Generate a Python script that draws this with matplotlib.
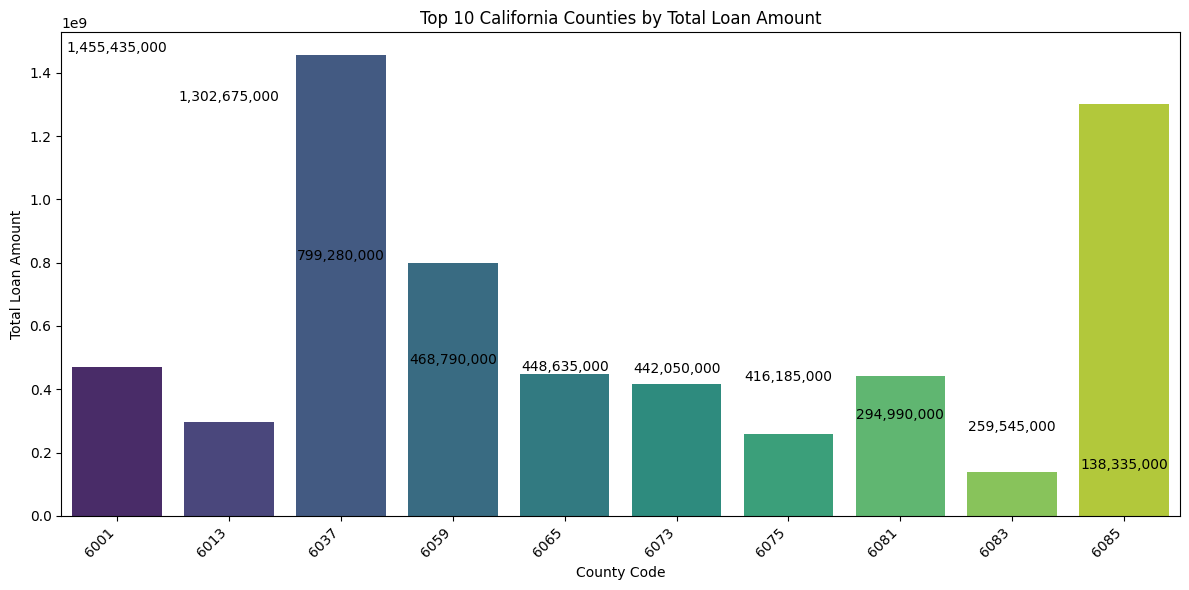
import matplotlib
matplotlib.use('Agg')
import matplotlib.pyplot as plt
import seaborn as sns
import pandas as pd

# Condados (código FIPS) y monto total de préstamos
county_codes = ['6001', '6013', '6037', '6059', '6065', '6073', '6075', '6081', '6083', '6085']
loan_totals = [468790000, 294990000, 1455435000, 799280000, 448635000,
               416185000, 259545000, 442050000, 138335000, 1302675000]

df = pd.DataFrame({'county_code': county_codes, 'loan_amount': loan_totals})

plt.figure(figsize=(12, 6))
ax = sns.barplot(data=df, x='county_code', y='loan_amount', hue='county_code',
                 palette='viridis', legend=False)
plt.title('Top 10 California Counties by Total Loan Amount')
plt.xlabel('County Code')
plt.ylabel('Total Loan Amount')
plt.xticks(rotation=45, ha='right')

# Etiquetas con los valores (ordenados de mayor a menor)
for i, v in enumerate(sorted(loan_totals, reverse=True)):
    ax.text(i, v, f'{v:,.0f}', ha='center', va='bottom', fontsize=10)

plt.tight_layout()
plt.savefig('out.png', dpi=100, bbox_inches='tight')
